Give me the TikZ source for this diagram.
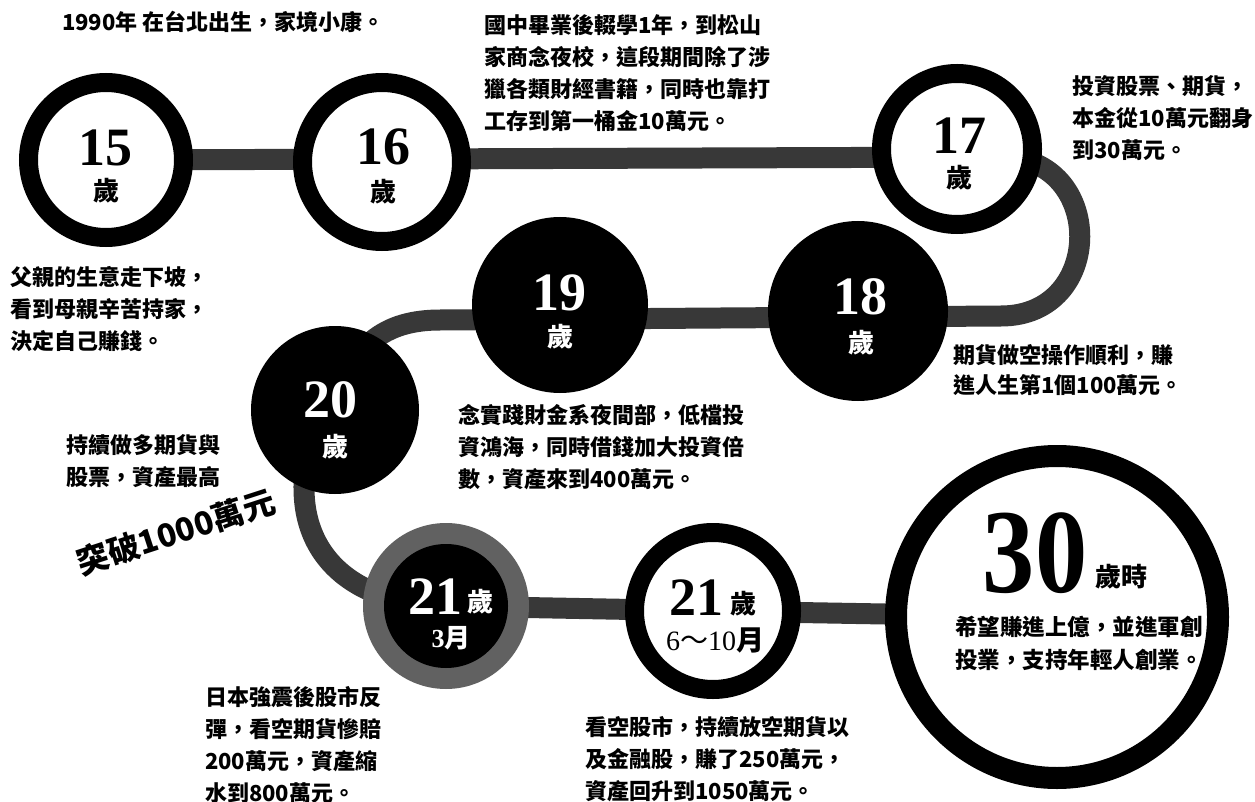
\documentclass[tikz,border=0pt]{standalone}
\usepackage{fontspec}
\newfontfamily\cjk{Noto Sans CJK TC}
\newfontfamily\numf{Liberation Serif}
\begin{document}
\begin{tikzpicture}[x=1pt,y=-1pt,
  band/.style={line width=21pt, draw=black!78},
  ring/.style={circle, draw=black, line width=19pt, fill=white, inner sep=0pt},
  disc/.style={circle, fill=black, inner sep=0pt},
  txt/.style={font=\cjk\bfseries\fontsize{22}{32}\selectfont, anchor=north west, inner sep=0pt, align=left},
  num/.style={font=\numf\bfseries\fontsize{54}{54}\selectfont, inner sep=0pt},
  sui/.style={font=\cjk\bfseries\fontsize{26}{26}\selectfont, inner sep=0pt},
  wnum/.style={num, text=white},
  wsui/.style={sui, text=white}
]
\useasboundingbox (0,0) rectangle (1255,802);
\fill[white] (0,0) rectangle (1255,802);
% centres
\coordinate (k15) at (106,160);
\coordinate (k16) at (382,162);
\coordinate (k17) at (957,149);
\coordinate (k18) at (858,311);
\coordinate (k19) at (560,305);
\coordinate (k20) at (335,410);
\coordinate (k21a) at (446,606);
\coordinate (k21b) at (713,611);
\coordinate (k30) at (1057,617);
\coordinate (b1) at (1001,157);
\coordinate (b2) at (1001,316);
\coordinate (b3) at (440,320);
\coordinate (b4) at (305,470);
% band
\draw[band] (k15) -- (b1) .. controls (1106,157) and (1106,316) .. (b2) -- (b3)
  .. controls (385,320) and (350,345) .. (k20) -- (b4)
  .. controls (295,560) and (360,605) .. (k21a) -- (k21b) -- (k30);
% circles
\node[ring, minimum size=155pt] (c15) at (k15) {};
\node[ring, minimum size=159pt] (c16) at (k16) {};
\node[ring, minimum size=151pt] (c17) at (k17) {};
\node[disc, minimum size=180pt] (c18) at (k18) {};
\node[disc, minimum size=176pt] (c19) at (k19) {};
\node[disc, minimum size=168pt] (c20) at (k20) {};
\node[disc, fill=black!62, minimum size=166pt] (c21a) at (k21a) {};
\node[disc, minimum size=124pt] (c21ai) at (k21a) {};
\node[ring, minimum size=157pt] (c21b) at (k21b) {};
\node[ring, line width=22pt, minimum size=322pt] (c30) at (k30) {};
% circle labels
\node[num] (n15) at (105,148) {15};
\node[sui] (s15) at (106,191) {歲};
\node[num] (n16) at (383,147) {16};
\node[sui] (s16) at (383,192) {歲};
\node[num] (n17) at (959,136) {17};
\node[sui] (s17) at (959,178) {歲};
\node[wnum] (n18) at (860,297) {18};
\node[wsui] (s18) at (861,343) {歲};
\node[wnum] (n19) at (559,293) {19};
\node[wsui] (s19) at (560,337) {歲};
\node[wnum] (n20) at (330,400) {20};
\node[wsui] (s20) at (335,447) {歲};
\node[wnum] (n21a) at (435,597) {21};
\node[wsui] (s21a) at (480,602) {歲};
\node[text=white, inner sep=0pt] (m21a) at (451,638) {\numf\bfseries\fontsize{26}{26}\selectfont 3\cjk 月};
\node[num] (n21b) at (696,598) {21};
\node[sui] (s21b) at (743,604) {歲};
\node[inner sep=0pt] (m21b) at (715,640) {\numf\fontsize{28}{28}\selectfont 6\cjk ～\numf 10\cjk\bfseries 月};
\node[inner sep=0pt] (n30) at (1035,553) {\scalebox{0.87}[1]{\numf\bfseries\fontsize{120}{120}\selectfont 30}};
\node[sui] (s30) at (1121,577) {歲時};
\node[txt, font=\cjk\bfseries\fontsize{22.5}{33}\selectfont] (t30) at (955,616) {希望賺進上億，並進軍創\\投業，支持年輕人創業。};
% texts
\node[txt] (t1) at (62,11) {1990年 在台北出生，家境小康。};
\node[txt] (t2) at (484,14) {國中畢業後輟學1年，到松山\\家商念夜校，這段期間除了涉\\獵各類財經書籍，同時也靠打\\工存到第一桶金10萬元。};
\node[txt] (t3) at (1072,75) {投資股票、期貨，\\本金從10萬元翻身\\到30萬元。};
\node[txt] (t4) at (10,266) {父親的生意走下坡，\\看到母親辛苦持家，\\決定自己賺錢。};
\node[txt, font=\cjk\bfseries\fontsize{22}{30}\selectfont] (t5) at (953,344) {期貨做空操作順利，賺\\進人生第1個100萬元。};
\node[txt] (t6) at (458,404) {念實踐財金系夜間部，低檔投\\資鴻海，同時借錢加大投資倍\\數，資產來到400萬元。};
\node[txt] (t7) at (66,434) {持續做多期貨與\\股票，資產最高};
\node[font=\cjk\bfseries\fontsize{32}{32}\selectfont, rotate=18, inner sep=0pt] (t10) at (176,532) {突破1000萬元};
\node[txt] (t8) at (205,686) {日本強震後股市反\\彈，看空期貨慘賠\\200萬元，資產縮\\水到800萬元。};
\node[txt] (t9) at (585,716) {看空股市，持續放空期貨以\\及金融股，賺了250萬元，\\資產回升到1050萬元。};
\end{tikzpicture}
\end{document}
